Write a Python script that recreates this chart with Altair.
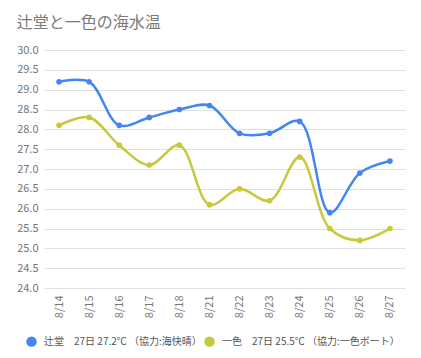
import altair as alt
import pandas as pd

dates = ["8/14", "8/15", "8/16", "8/17", "8/18", "8/21", "8/22", "8/23", "8/24", "8/25", "8/26", "8/27"]
tsujido = [29.2, 29.2, 28.1, 28.3, 28.5, 28.6, 27.9, 27.9, 28.2, 25.9, 26.9, 27.2]
isshiki = [28.1, 28.3, 27.6, 27.1, 27.6, 26.1, 26.5, 26.2, 27.3, 25.5, 25.2, 25.5]
series_names = ["辻堂　27日 27.2℃ （協力:海快晴）", "一色　27日 25.5℃ （協力:一色ボート）"]
colors = ["#4285f4", "#c6c93b"]

rows = []
for name, vals in zip(series_names, [tsujido, isshiki]):
    for d, v in zip(dates, vals):
        rows.append({"date": d, "temp": v, "series": name})
df = pd.DataFrame(rows)

font = "Noto Sans CJK JP"

x = alt.X("date:O", sort=dates, scale=alt.Scale(type="point", padding=0.5),
          axis=alt.Axis(title=None, labelAngle=-90, labelAlign="right", labelBaseline="middle",
                        ticks=False, domain=False, grid=False, labelColor="#757575",
                        labelFontSize=11, labelPadding=7, labelFont=font))
y = alt.Y("temp:Q", scale=alt.Scale(domain=[24, 30], nice=False, zero=False),
          axis=alt.Axis(title=None, values=[24 + 0.5 * i for i in range(13)], format=".1f",
                        ticks=False, domain=False, gridColor="#e0e0e0", gridWidth=1.2,
                        labelColor="#757575", labelFontSize=11, labelPadding=6, labelFont=font))
color = alt.Color("series:N", sort=series_names,
                  scale=alt.Scale(domain=series_names, range=colors),
                  legend=alt.Legend(title=None, orient="none", legendX=-18, legendY=286,
                                    direction="horizontal", padding=0,
                                    symbolType="circle", symbolSize=110, symbolStrokeWidth=0,
                                    labelFontSize=10, labelColor="#555555", labelFont=font,
                                    labelOffset=7, columnPadding=2, labelLimit=300))

base = alt.Chart(df)
lines = base.mark_line(interpolate="catmull-rom", strokeWidth=2.5).encode(x=x, y=y, color=color)
points = base.mark_circle(size=32, opacity=1).encode(x=x, y=y, color=color)

chart = (lines + points).properties(
    width=405, height=342,
    autosize=alt.AutoSizeParams(type="fit", contains="padding"),
    title=alt.TitleParams("辻堂と一色の海水温", anchor="start", frame="bounds", fontSize=16,
                          fontWeight="normal", color="#7a7a7a", font=font, offset=13, dx=0),
    padding={"left": 8, "top": 7, "right": 8, "bottom": 32},
).configure_view(stroke=None)

chart.save("out.html", embed_options={"renderer": "svg", "actions": False})
